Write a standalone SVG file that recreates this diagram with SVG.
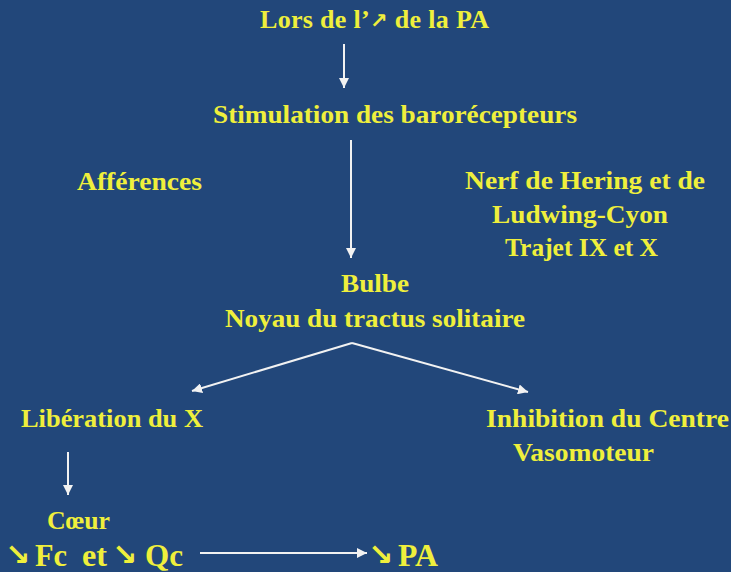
<svg xmlns="http://www.w3.org/2000/svg" width="731" height="572" viewBox="0 0 731 572">
<defs>
<style>
.t{font-family:"Liberation Serif","DejaVu Serif",serif;font-weight:bold;font-size:26px;fill:#EFEF3C}
.big{font-size:31px}
.sym{font-family:"DejaVu Sans",sans-serif;font-weight:bold;fill:#EFEF3C}
.c{stroke:#F2F2F2;stroke-width:2;fill:none;marker-end:url(#ah)}
</style>
<marker id="ah" markerUnits="userSpaceOnUse" markerWidth="10" markerHeight="10" refX="10" refY="5" orient="auto" viewBox="0 0 10 10">
<path d="M0,0 L10,5 L0,10 z" fill="#F2F2F2"/>
</marker>
</defs>
<rect width="731" height="572" fill="#22477A"/>
<g id="connectors">
<line class="c" x1="344" y1="44" x2="344" y2="88"/>
<line class="c" x1="351" y1="140" x2="351" y2="258"/>
<line class="c" x1="352" y1="343" x2="192" y2="391"/>
<line class="c" x1="352" y1="343" x2="528" y2="392"/>
<line class="c" x1="68" y1="452" x2="68" y2="495"/>
<line class="c" x1="200" y1="553" x2="367" y2="553"/>
</g>
<g id="n-lors">
<text class="t" x="260" y="28" textLength="229" lengthAdjust="spacing">Lors de l’<tspan class="sym" font-size="21">↗</tspan> de la PA</text>
</g>
<g id="n-stim">
<text class="t" x="213" y="123" textLength="364" lengthAdjust="spacingAndGlyphs">Stimulation des barorécepteurs</text>
</g>
<g id="n-aff">
<text class="t" x="77" y="190" textLength="125" lengthAdjust="spacingAndGlyphs">Afférences</text>
</g>
<g id="n-nerf">
<text class="t" x="465" y="189" textLength="240" lengthAdjust="spacingAndGlyphs">Nerf de Hering et de</text>
<text class="t" x="492" y="223" textLength="176" lengthAdjust="spacingAndGlyphs">Ludwing-Cyon</text>
<text class="t" x="505" y="256" textLength="153" lengthAdjust="spacingAndGlyphs">Trajet IX et X</text>
</g>
<g id="n-bulbe">
<text class="t" x="341" y="292" textLength="68" lengthAdjust="spacingAndGlyphs">Bulbe</text>
<text class="t" x="225" y="327" textLength="300" lengthAdjust="spacingAndGlyphs">Noyau du tractus solitaire</text>
</g>
<g id="n-lib">
<text class="t" x="21" y="427" textLength="182" lengthAdjust="spacingAndGlyphs">Libération du X</text>
</g>
<g id="n-inhib">
<text class="t" x="486" y="427" textLength="243" lengthAdjust="spacingAndGlyphs">Inhibition du Centre</text>
<text class="t" x="513" y="461" textLength="141" lengthAdjust="spacingAndGlyphs">Vasomoteur</text>
</g>
<g id="n-coeur">
<text class="t" x="47" y="529" textLength="63" lengthAdjust="spacingAndGlyphs">Cœur</text>
</g>
<g id="n-fc">
<text class="sym" x="5" y="565" font-size="30">↘</text>
<text class="t big" x="35" y="566" textLength="32" lengthAdjust="spacingAndGlyphs">Fc</text>
<text class="t big" x="82" y="566" textLength="25" lengthAdjust="spacingAndGlyphs">et</text>
<text class="sym" x="112" y="565" font-size="30">↘</text>
<text class="t big" x="145" y="566" textLength="38" lengthAdjust="spacingAndGlyphs">Qc</text>
</g>
<g id="n-pa">
<text class="sym" x="368" y="565" font-size="30">↘</text>
<text class="t big" x="398" y="566" textLength="40" lengthAdjust="spacingAndGlyphs">PA</text>
</g>
</svg>
